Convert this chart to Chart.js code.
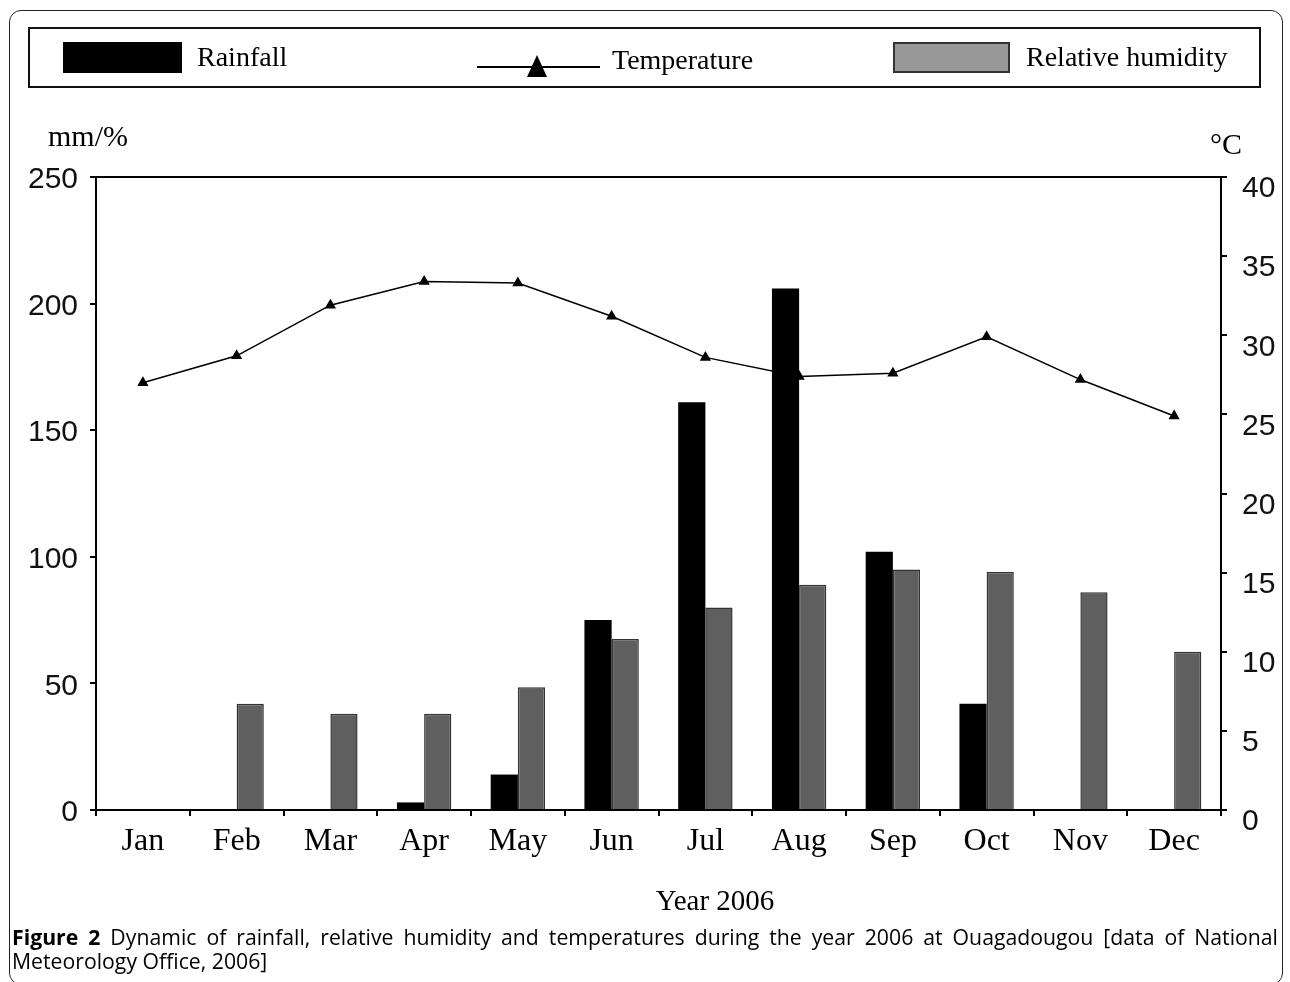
<!DOCTYPE html>
<html>
<head>
<meta charset="utf-8">
<script src="https://cdn.jsdelivr.net/npm/chart.js@4.4.0/dist/chart.umd.min.js"></script>
<style>
  body { margin: 0; background: #fff; }
  #wrap { position: relative; width: 1290px; height: 982px; overflow: hidden; }
  #chart { position: absolute; left: 0; top: 0; }
  .abs { position: absolute; white-space: nowrap; }
  .serif { font-family: "Liberation Serif", "DejaVu Serif", serif; color: #000; }
  #frame { position: absolute; left: 9px; top: 10px; width: 1274px; height: 975px;
           border: 1.5px solid #222; border-radius: 12px; box-sizing: border-box; }
  #legend { position: absolute; left: 28px; top: 27px; width: 1233px; height: 61px;
            border: 2px solid #111; box-sizing: border-box; }
  .caption { position: absolute; left: 12px; font-family: "Open Sans", sans-serif; white-space: nowrap;
             font-size: 22px; color: #000; line-height: 25px; transform-origin: 0 0; }
</style>
</head>
<body>
<div id="wrap">
  <canvas id="chart" width="1290" height="982"></canvas>
  <div id="frame"></div>
  <div id="legend"></div>
  <!-- legend items -->
  <div class="abs" style="left:63px;top:42px;width:119px;height:31px;background:#000;"></div>
  <div class="abs serif" style="left:197px;top:42px;font-size:28px;line-height:30px;">Rainfall</div>
  <div class="abs" style="left:477px;top:66px;width:123px;height:2px;background:#000;"></div>
  <div class="abs" style="left:527px;top:55px;width:0;height:0;border-left:10px solid transparent;border-right:10px solid transparent;border-bottom:22px solid #000;"></div>
  <div class="abs serif" style="left:612px;top:45px;font-size:28px;line-height:30px;">Temperature</div>
  <div class="abs" style="left:893px;top:42px;width:117px;height:31px;background:#999;border:2px solid #333;box-sizing:border-box;"></div>
  <div class="abs serif" style="left:1026px;top:42px;font-size:28px;line-height:30px;">Relative humidity</div>
  <!-- axis titles -->
  <div class="abs serif" style="left:48px;top:120px;font-size:30px;line-height:32px;">mm/%</div>
  <div class="abs serif" style="left:1210px;top:128px;font-size:30px;line-height:32px;">°C</div>
  <div class="abs serif" style="left:0;width:1430px;text-align:center;top:884px;font-size:29px;line-height:32px;">Year 2006</div>
  <!-- caption -->
  <div class="caption" id="cap1" style="top:924px;"><b>Figure 2</b> Dynamic of rainfall, relative humidity and temperatures during the year 2006 at Ouagadougou [data of National</div>
  <div class="caption" id="cap2" style="top:948px;">Meteorology Office, 2006]</div>
</div>
<script>
const months = ["Jan", "Feb", "Mar", "Apr", "May", "Jun", "Jul", "Aug", "Sep", "Oct", "Nov", "Dec"];
const rainfall = [0, 0, 0, 3, 14, 75, 161, 206, 102, 42, 0, 0];
const humidity = [0, 42, 38, 38, 48.5, 67.5, 80, 89, 95, 94, 86, 62.5];
const temperature = [27.0, 28.7, 31.9, 33.4, 33.3, 31.2, 28.6, 27.4, 27.6, 29.9, 27.2, 24.9];

const leftTicks = [0, 50, 100, 150, 200, 250];
const rightTicks = [0, 5, 10, 15, 20, 25, 30, 35, 40];

// caption: stretch the text a little, then justify the first line to the figure width
const cap1 = document.getElementById("cap1");
const cap2 = document.getElementById("cap2");
const capScale = 1190 / cap1.offsetWidth;
cap1.style.width = 1266 / capScale + "px";
cap1.style.textAlign = "justify";
cap1.style.textAlignLast = "justify";
cap1.style.whiteSpace = "normal";
cap1.style.transform = `scaleX(${capScale})`;
cap2.style.transform = `scaleX(${capScale})`;

// draws the top border of the plot area
const topLinePlugin = {
  id: "topLine",
  afterDraw(chart) {
    const { ctx, chartArea } = chart;
    ctx.save();
    ctx.strokeStyle = "#000";
    ctx.lineWidth = 2;
    ctx.beginPath();
    ctx.moveTo(chartArea.left, chartArea.top);
    ctx.lineTo(chartArea.right, chartArea.top);
    ctx.stroke();
    ctx.restore();
  },
};

const ctx = document.getElementById("chart").getContext("2d");
new Chart(ctx, {
  type: "bar",
  data: {
    labels: months,
    datasets: [
      {
        label: "Rainfall",
        data: rainfall,
        backgroundColor: "#000",
        borderWidth: 0,
        yAxisID: "y",
        order: 1,
      },
      {
        label: "Relative humidity",
        data: humidity,
        backgroundColor: "#5f5f5f",
        borderColor: "#333",
        borderWidth: 1.5,
        yAxisID: "y",
        order: 1,
      },
      {
        type: "line",
        label: "Temperature",
        data: temperature,
        borderColor: "#000",
        backgroundColor: "#000",
        borderWidth: 1.5,
        pointStyle: "triangle",
        pointRadius: 5,
        tension: 0,
        yAxisID: "y1",
        order: 2,
      },
    ],
  },
  options: {
    responsive: false,
    animation: false,
    layout: { padding: { top: 177, left: 0, right: 0, bottom: 0 } },
    datasets: {
      bar: { categoryPercentage: 0.58, barPercentage: 1.0 },
    },
    plugins: {
      legend: { display: false },
      tooltip: { enabled: false },
    },
    scales: {
      x: {
        afterFit: (s) => { s.height = 172; },
        grid: { display: true, drawOnChartArea: false, offset: true, color: "#000", tickLength: 6, lineWidth: 2 },
        border: { color: "#000", width: 2 },
        ticks: {
          color: "#000",
          padding: 6,
          font: { family: "'Liberation Serif', serif", size: 32 },
        },
      },
      y: {
        position: "left",
        min: 0,
        max: 250,
        afterFit: (s) => { s.width = 96; },
        afterBuildTicks: (s) => { s.ticks = leftTicks.map((v) => ({ value: v })); },
        grid: { drawOnChartArea: false, color: "#000", tickLength: 6, lineWidth: 2 },
        border: { color: "#000", width: 2 },
        ticks: {
          color: "#111",
          padding: 12,
          labelOffset: 3,
          font: { family: "'Liberation Sans', sans-serif", size: 30 },
        },
      },
      y1: {
        position: "right",
        min: 0,
        max: 40,
        afterFit: (s) => { s.width = 69; },
        afterBuildTicks: (s) => { s.ticks = rightTicks.map((v) => ({ value: v })); },
        grid: { drawOnChartArea: false, color: "#000", tickLength: 6, lineWidth: 2 },
        border: { color: "#000", width: 2 },
        ticks: {
          color: "#111",
          padding: 15,
          labelOffset: 12,
          font: { family: "'Liberation Sans', sans-serif", size: 30 },
        },
      },
    },
  },
  plugins: [topLinePlugin],
});
</script>
</body>
</html>
